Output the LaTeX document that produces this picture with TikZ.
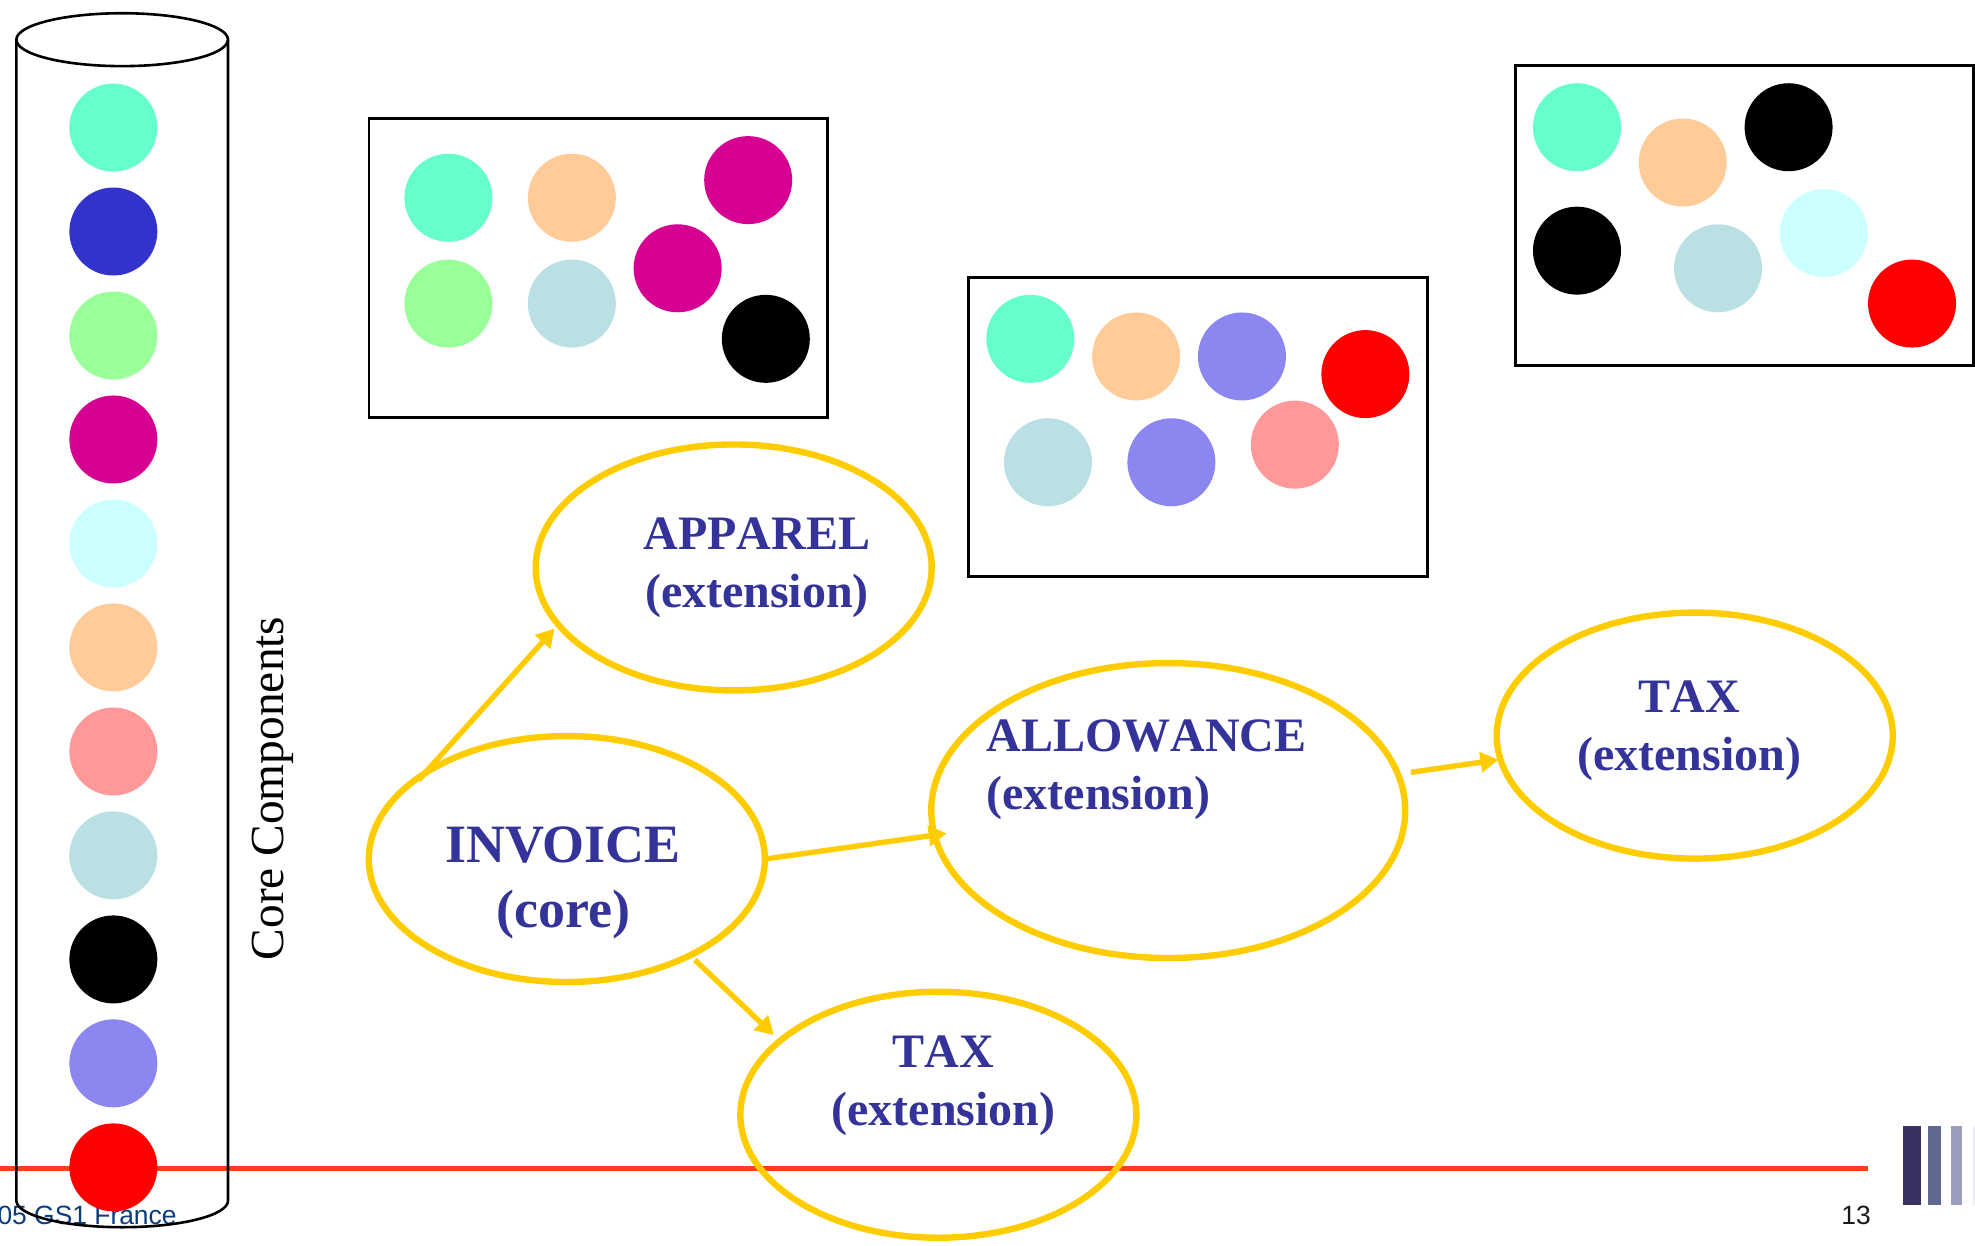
\documentclass[tikz,border=0pt]{standalone}
\usepackage{fontspec}
\setmainfont{Liberation Serif}
\newfontfamily\arialfont{Liberation Sans}
\usetikzlibrary{shapes.geometric,arrows.meta}
\definecolor{cAqua}{HTML}{66FFCC}
\definecolor{cBlue}{HTML}{3333CC}
\definecolor{cGreen}{HTML}{99FF99}
\definecolor{cMag}{HTML}{D60093}
\definecolor{cCyan}{HTML}{CCFFFF}
\definecolor{cPeach}{HTML}{FFCC99}
\definecolor{cPink}{HTML}{FF9999}
\definecolor{cLtBlue}{HTML}{BBE0E3}
\definecolor{cPeri}{HTML}{8C87F0}
\definecolor{cYel}{HTML}{FFCC00}
\definecolor{cInk}{HTML}{333399}
\definecolor{cRule}{HTML}{FF3F14}
\definecolor{cFoot}{HTML}{0A3C7C}
\definecolor{cBarA}{HTML}{3A3162}
\definecolor{cBarB}{HTML}{5F6890}
\definecolor{cBarC}{HTML}{9A9DBB}
\definecolor{cBarD}{HTML}{ECECF2}
\tikzset{
  dot/.style={circle,fill=#1,draw=none,minimum size=44pt,inner sep=0pt,outer sep=0pt},
  oval/.style={ellipse,draw=cYel,line width=3.2pt,minimum width=198pt,minimum height=123pt,inner sep=0pt,outer sep=0pt},
  framebox/.style={draw=black,line width=1.4pt},
  flow/.style={draw=cYel,line width=2.7pt,-{Triangle[length=9pt,width=10pt]}},
  extlabel/.style={text=cInk,font=\fontsize{24}{29}\selectfont\bfseries\addfontfeature{Kerning=Off},align=center,inner sep=0pt},
  corelabel/.style={text=cInk,font=\fontsize{27}{32.7}\selectfont\bfseries,align=center,inner sep=0pt},
  foot/.style={font=\arialfont\fontsize{13.2}{15}\selectfont,inner sep=0pt}
}
\begin{document}
\begin{tikzpicture}[x=0.6298pt,y=-0.6298pt]
\useasboundingbox (0,0) rectangle (1568,988.5);
% footer rule and logo
\fill[cRule] (0,925.8) rectangle (1483,930);
\fill[cBarA] (1511,894) rectangle (1525,956.7);
\fill[cBarB] (1530.7,894) rectangle (1541,956.7);
\fill[cBarC] (1549,894) rectangle (1557.7,956.7);
\fill[cBarD] (1566.5,894) rectangle (1568,956.7);
\node[foot,text=cFoot,anchor=base east] (copy) at (140.5,972) {05 GS1 France};
\node[foot,text=black!90,anchor=base east] (pageno) at (1485.5,972) {13};
% cylinder
\draw[line width=1.3pt,line join=round] (13,31.5) -- (13,953.3) arc[start angle=180,end angle=0,x radius=84,y radius=21] -- (181,31.5);
\draw[line width=1.3pt] (97,31.5) ellipse[x radius=84,y radius=21];
\node[rotate=90,font=\fontsize{23.7}{28}\selectfont,inner sep=0pt] (corelbl) at (216.5,626) {Core Components};
% core component column
\node[dot=cAqua] (k1) at (90,101.3) {};
\node[dot=cBlue] (k2) at (90,183.8) {};
\node[dot=cGreen] (k3) at (90,266.4) {};
\node[dot=cMag] (k4) at (90,348.9) {};
\node[dot=cCyan] (k5) at (90,431.5) {};
\node[dot=cPeach] (k6) at (90,514) {};
\node[dot=cPink] (k7) at (90,596.6) {};
\node[dot=cLtBlue] (k8) at (90,679.1) {};
\node[dot=black] (k9) at (90,761.7) {};
\node[dot=cPeri] (k10) at (90,844.2) {};
\node[dot=red] (k11) at (90,926.8) {};
% boxes
\draw[framebox] (293,94) rectangle (657,331.5);
\node[dot=cAqua] (a1) at (356,157) {};
\node[dot=cPeach] (a2) at (454,157) {};
\node[dot=cMag] (a3) at (594,143) {};
\node[dot=cGreen] (a4) at (356,241) {};
\node[dot=cLtBlue] (a5) at (454,241) {};
\node[dot=cMag] (a6) at (538,213) {};
\node[dot=black] (a7) at (608,269) {};
\draw[framebox] (769,220) rectangle (1133,458);
\node[dot=cAqua] (b1) at (818,269) {};
\node[dot=cPeach] (b2) at (902,283) {};
\node[dot=cPeri] (b3) at (986,283) {};
\node[dot=red] (b4) at (1084,297) {};
\node[dot=cLtBlue] (b5) at (832,367) {};
\node[dot=cPeri] (b6) at (930,367) {};
\node[dot=cPink] (b7) at (1028,353) {};
\draw[framebox] (1203,52) rectangle (1567,290);
\node[dot=cAqua] (c1) at (1252,101) {};
\node[dot=cPeach] (c2) at (1336,129) {};
\node[dot=black] (c3) at (1420,101) {};
\node[dot=black] (c4) at (1252,199) {};
\node[dot=cLtBlue] (c5) at (1364,213) {};
\node[dot=cCyan] (c6) at (1448,185) {};
\node[dot=red] (c7) at (1518,241) {};
% ellipses
\node[oval] (apparel) at (582.5,450.5) {};
\node[oval] (invoice) at (450,682) {};
\node[oval,minimum width=237pt,minimum height=147.5pt] (allowance) at (927.5,643.5) {};
\node[oval] (taxright) at (1345.5,584) {};
\node[oval] (taxlow) at (745,885) {};
% labels
\node[extlabel] (lapp) at (601,451) {APPAREL\\(extension)};
\node[corelabel] (linv) at (447,701) {INVOICE\\(core)};
\node[extlabel,align=left,anchor=west] (lall) at (783,611) {ALLOWANCE\\(extension)};
\node[extlabel] (ltr) at (1341,580.5) {TAX\\(extension)};
\node[extlabel] (ltl) at (749,862) {TAX\\(extension)};
% connectors
\draw[flow,shorten <=-4.5pt,shorten >=2.8pt] (invoice.149.5) -- (apparel.198);
\draw[flow,shorten >=-6.1pt] (invoice.east) -- (allowance.186.4);
\draw[flow,shorten <=3.4pt,shorten >=4.3pt] (invoice.-38.8) -- (taxlow.155.5);
\draw[flow,shorten <=6.5pt,shorten >=1pt] (allowance.9.4) -- (taxright.187.8);
\end{tikzpicture}
\end{document}
